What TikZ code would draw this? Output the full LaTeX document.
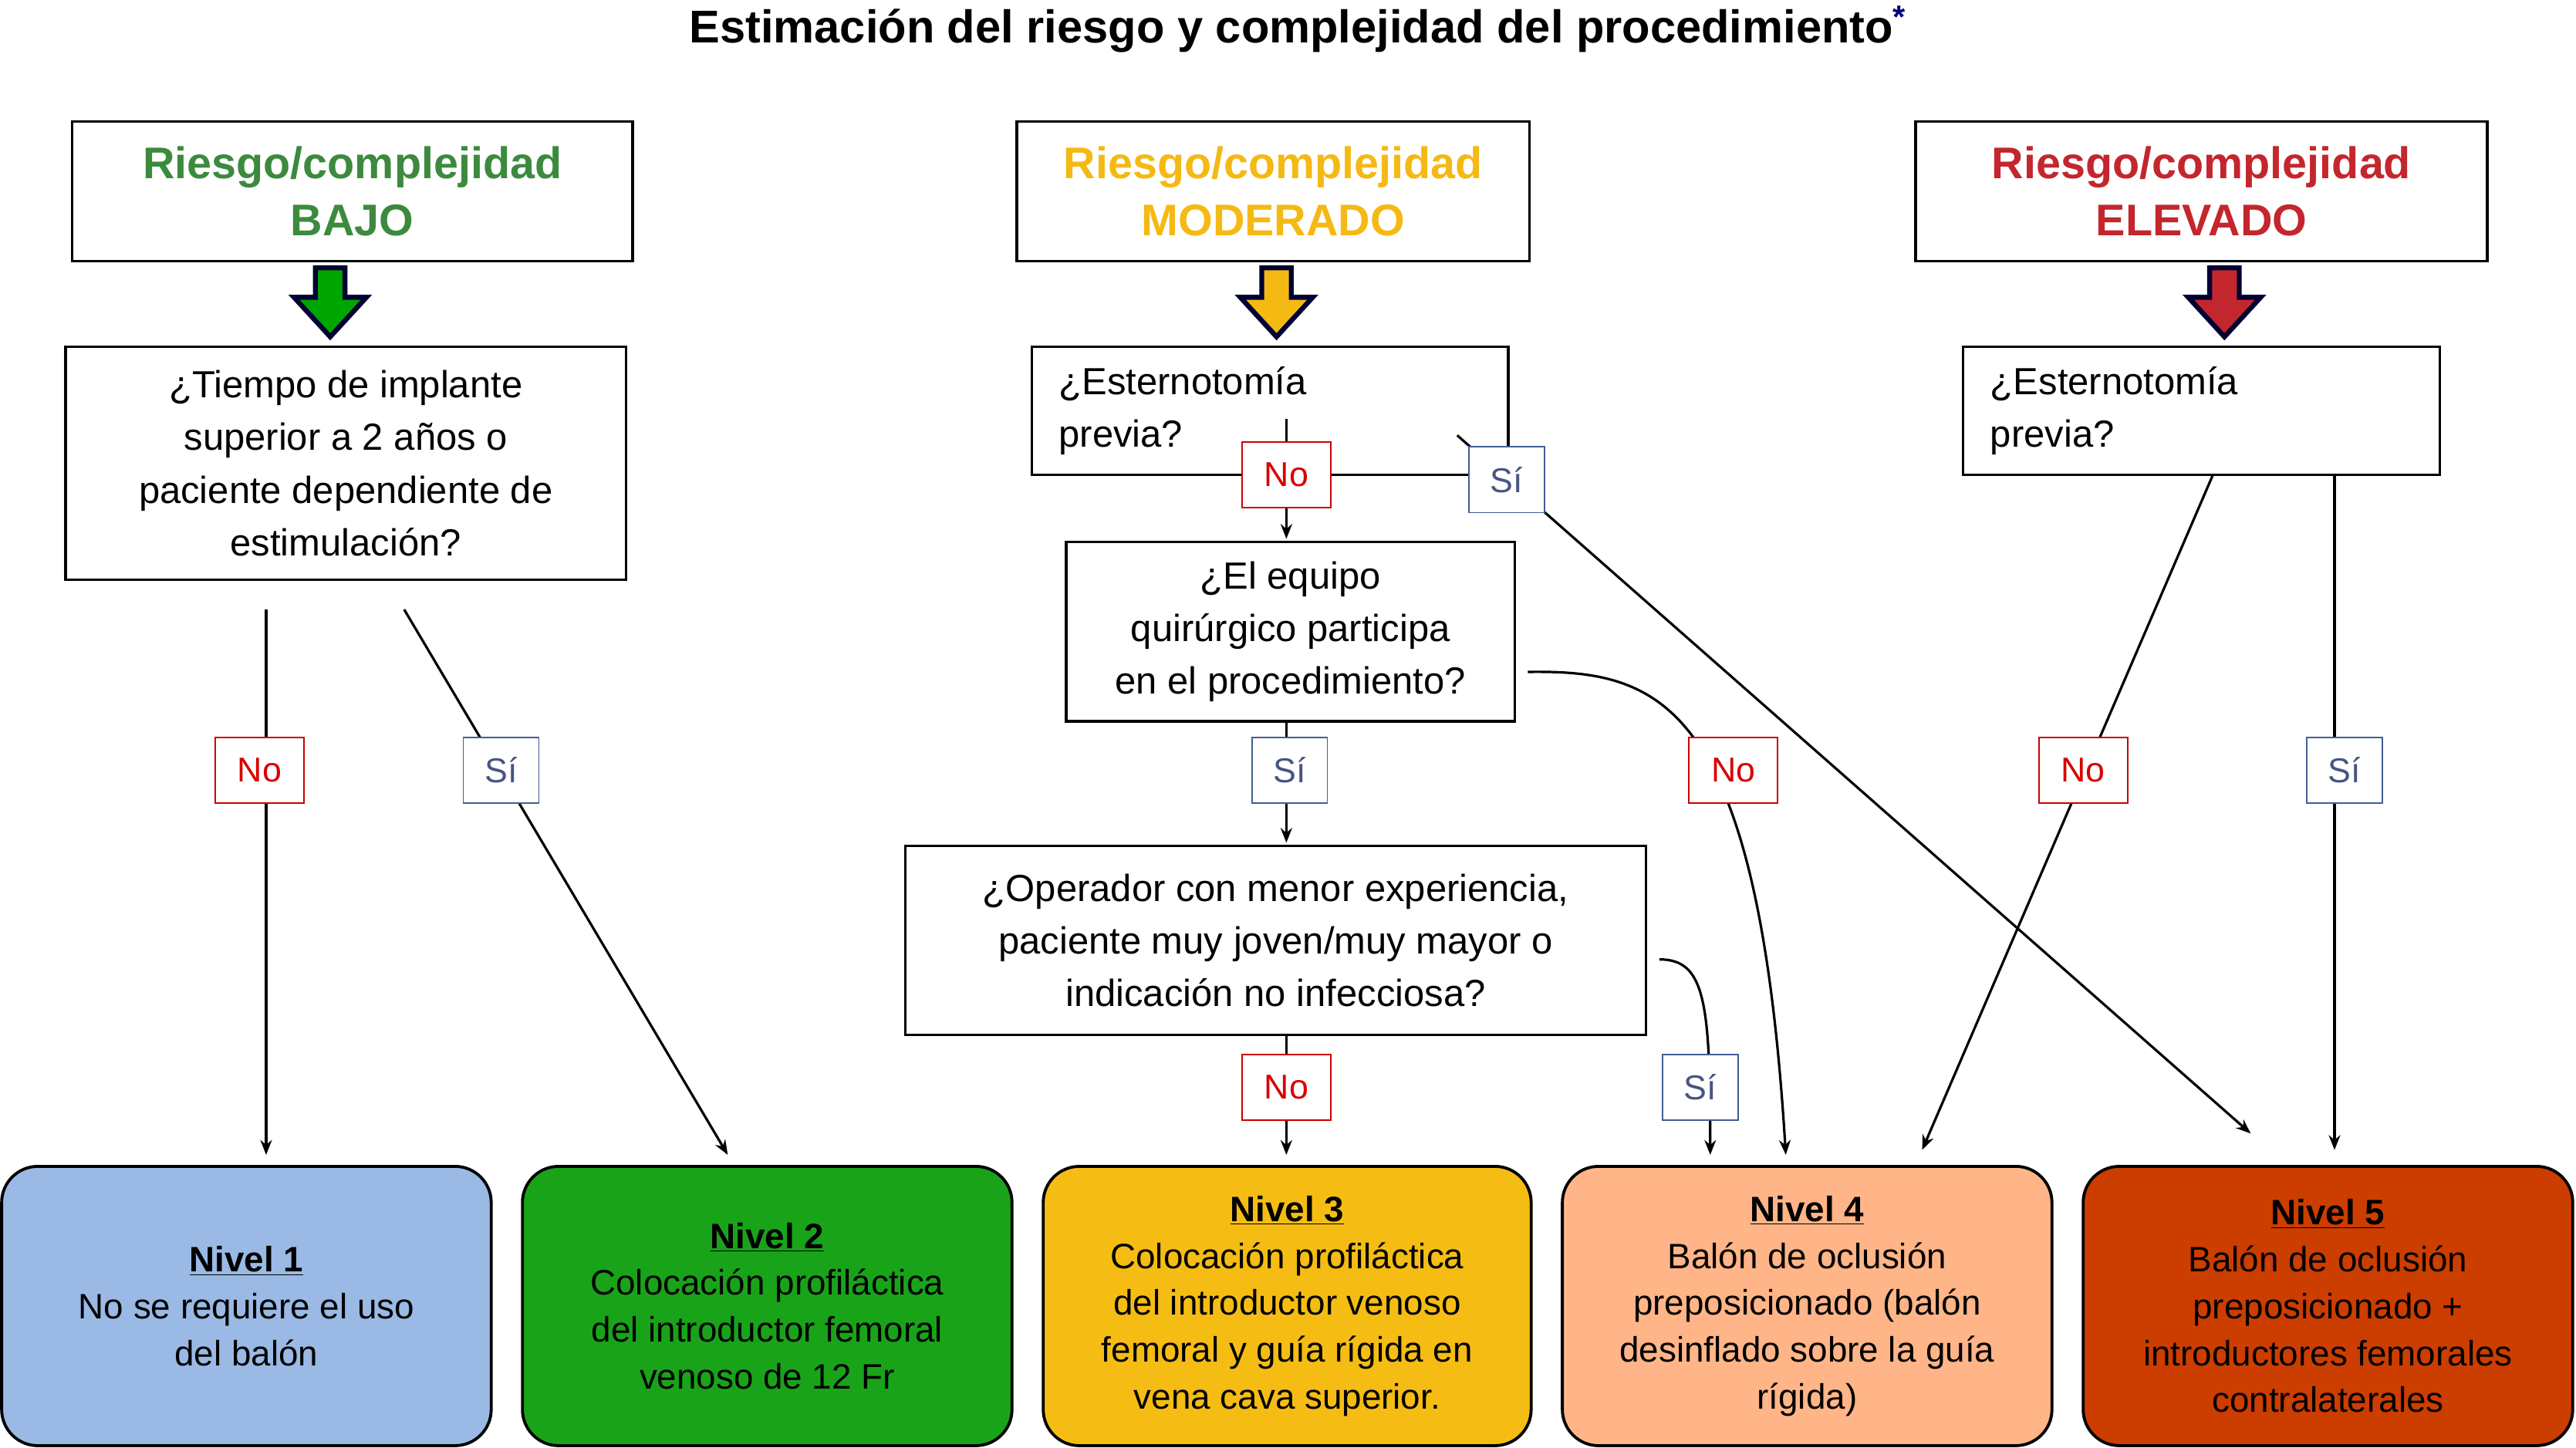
\documentclass[tikz,border=0pt]{standalone}
\usepackage{fontspec}
\setmainfont{Liberation Sans}
\usetikzlibrary{arrows.meta}
\newcommand{\nivel}[1]{\underline{\textbf{#1}}}
\begin{document}
\begin{tikzpicture}[x=1pt,y=-1pt,
 hdr/.style={draw,line width=1.6pt,font=\fontsize{27}{35}\selectfont\bfseries,align=center,inner sep=0},
 q/.style={draw,line width=1.6pt,font=\fontsize{23}{32}\selectfont,inner sep=0},
 lvl/.style={draw,line width=1.8pt,rounded corners=22pt,font=\fontsize{21.5}{28.5}\selectfont,align=center,inner sep=0},
 labno/.style={draw=red!80!black,fill=white,text=red!85!black,line width=0.8pt,minimum width=54pt,minimum height=40pt,font=\fontsize{21}{24}\selectfont,inner sep=0},
 labsi/.style={draw=cyan!40!blue!70!black,fill=white,text=cyan!30!blue!60!black,line width=0.8pt,minimum width=46pt,minimum height=40pt,font=\fontsize{21}{24}\selectfont,inner sep=0},
 con/.style={line width=1.5pt,-{Stealth[length=9pt,width=7pt]}},
 fat/.style={draw=black!80!blue,line width=3pt,line join=miter}]
\useasboundingbox (0,0) rectangle (1568,881);
\definecolor{gB}{HTML}{3C8A3E}\definecolor{gM}{HTML}{F5B914}\definecolor{gE}{HTML}{C4262E}
\node[font=\fontsize{28}{34}\selectfont\bfseries] (title) at (790,18) {Estimación del riesgo y complejidad del procedimiento\textcolor{blue!50!black}{\textsuperscript{*}}};
% headers
\node[hdr,text=gB,minimum width=341pt,minimum height=85pt] (hB) at (214.5,116.5) {Riesgo/complejidad\\BAJO};
\node[hdr,text=gM,minimum width=312pt,minimum height=85pt] (hM) at (775,116.5) {Riesgo/complejidad\\MODERADO};
\node[hdr,text=gE,minimum width=348pt,minimum height=85pt] (hE) at (1340,116.5) {Riesgo/complejidad\\ELEVADO};
% fat arrows
\foreach \xx/\cc in {201/green!65!black,777/gM,1354/gE}{
 \filldraw[fat,fill=\cc] (\xx-9,163) -- (\xx+9,163) -- (\xx+9,181) -- (\xx+22,181) -- (\xx,205) -- (\xx-22,181) -- (\xx-9,181) -- cycle;}
% questions
\node[q,minimum width=341pt,minimum height=142pt,align=center] (q1) at (210.5,282) {¿Tiempo de implante\\superior a 2 años o\\paciente dependiente de\\estimulación?};
\node[q,minimum width=290pt,minimum height=78pt] (q2) at (773,250) {};
\node[font=\fontsize{23}{32}\selectfont,align=left,anchor=west] (q2t) at (641,250) {¿Esternotomía\\previa?};
\node[q,minimum width=290pt,minimum height=78pt] (q3) at (1340,250) {};
\node[font=\fontsize{23}{32}\selectfont,align=left,anchor=west] (q3t) at (1208,250) {¿Esternotomía\\previa?};
\node[q,minimum width=273pt,minimum height=109pt,align=center] (q4) at (785.5,384.5) {¿El equipo\\quirúrgico participa\\en el procedimiento?};
\node[q,minimum width=451pt,minimum height=115pt,align=center] (q5) at (776.5,572.5) {¿Operador con menor experiencia,\\paciente muy joven/muy mayor o\\indicación no infecciosa?};
% levels
\node[lvl,fill=cyan!55!blue!40,minimum width=298pt,minimum height=170pt] (n1) at (150,795) {\nivel{Nivel 1}\\No se requiere el uso\\del balón};
\node[lvl,fill=green!60!black!90,minimum width=298pt,minimum height=170pt] (n2) at (467,795) {\nivel{Nivel 2}\\Colocación profiláctica\\del introductor femoral\\venoso de 12 Fr};
\node[lvl,fill=gM!95!yellow,minimum width=297pt,minimum height=170pt] (n3) at (783.5,795) {\nivel{Nivel 3}\\Colocación profiláctica\\del introductor venoso\\femoral y guía rígida en\\vena cava superior.};
\node[lvl,fill=orange!45!pink!80,minimum width=298pt,minimum height=170pt] (n4) at (1100,795) {\nivel{Nivel 4}\\Balón de oclusión\\preposicionado (balón\\desinflado sobre la guía\\rígida)};
\node[lvl,fill=orange!60!red!80!black,minimum width=298pt,minimum height=170pt] (n5) at (1417,795) {\nivel{Nivel 5}\\Balón de oclusión\\preposicionado +\\introductores femorales\\contralaterales};
% coordinates
\coordinate (a1) at (162,371); \coordinate (b1) at (162,703);
\coordinate (a2) at (246,371); \coordinate (b2) at (443,703);
\coordinate (a3) at (783,255); \coordinate (b3) at (783,328);
\coordinate (a4) at (887,265); \coordinate (b4) at (1370,690);
\coordinate (a5) at (783,439); \coordinate (b5) at (783,513);
\coordinate (a6) at (930,409); \coordinate (b6) at (1087,703);
\coordinate (a7) at (783,630); \coordinate (b7) at (783,703);
\coordinate (a8) at (1010,584); \coordinate (b8) at (1041,703);
\coordinate (a9) at (1347,289); \coordinate (b9) at (1170,700);
\coordinate (a10) at (1421,289); \coordinate (b10) at (1421,700);
\draw[con] (a1) -- (b1);
\draw[con] (a2) -- (b2);
\draw[con] (a3) -- (b3);
\draw[con] (a4) -- (b4);
\draw[con] (a5) -- (b5);
\draw[con] (a6) .. controls (1010,408) and (1070,425) .. (b6);
\draw[con] (a7) -- (b7);
\draw[con] (a8) .. controls (1038,584) and (1041,610) .. (b8);
\draw[con] (a9) -- (b9);
\draw[con] (a10) -- (b10);
% labels
\node[labno] (l1) at (158,469) {No};
\node[labsi] (l2) at (305,469) {Sí};
\node[labno] (l3) at (783,289) {No};
\node[labsi] (l4) at (917,292) {Sí};
\node[labsi] (l5) at (785,469) {Sí};
\node[labno] (l6) at (1055,469) {No};
\node[labno] (l7) at (783,662) {No};
\node[labsi] (l8) at (1035,662) {Sí};
\node[labno] (l9) at (1268,469) {No};
\node[labsi] (l10) at (1427,469) {Sí};
\end{tikzpicture}
\end{document}
